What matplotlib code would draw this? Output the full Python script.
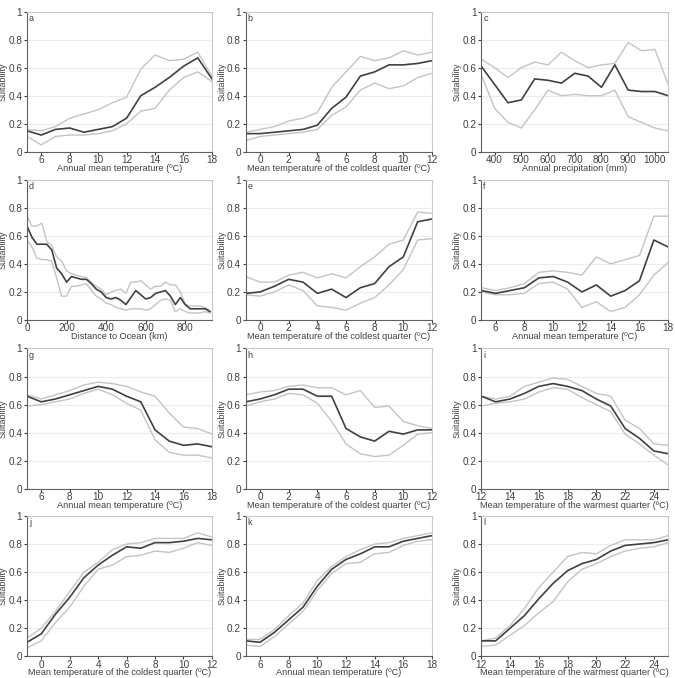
import numpy as np
import matplotlib
matplotlib.use("Agg")
import matplotlib.pyplot as plt

plt.rcParams['font.family'] = ['Liberation Sans', 'DejaVu Sans']

# eje x de cada panel
x_amt = [5, 6, 7, 8, 9, 10, 11, 12, 13, 14, 15, 16, 17, 18]
x_mtcq = [-1, 0, 1, 2, 3, 4, 5, 6, 7, 8, 9, 10, 11, 12]
x_mtwq = [12, 13, 14, 15, 16, 17, 18, 19, 20, 21, 22, 23, 24, 25]
x_prec = [350, 400, 450, 500, 550, 600, 650, 700, 750, 800, 850, 900, 950, 1000, 1050]
x_dist = [0, 25, 50, 75, 100, 125, 150, 175, 200, 225, 250, 275, 300, 325, 350, 375,
          400, 425, 450, 475, 500, 525, 550, 575, 600, 625, 650, 675, 700, 725, 750,
          775, 800, 825, 850, 875, 900, 925]

# panel a
a_mean = [0.15, 0.12, 0.16, 0.17, 0.14, 0.16, 0.18, 0.24, 0.40, 0.46, 0.53, 0.61, 0.67, 0.52]
a_up = [0.16, 0.15, 0.18, 0.24, 0.27, 0.30, 0.35, 0.39, 0.59, 0.69, 0.65, 0.66, 0.71, 0.54]
a_lo = [0.11, 0.05, 0.11, 0.12, 0.12, 0.13, 0.15, 0.20, 0.29, 0.31, 0.44, 0.53, 0.57, 0.50]
# panel b
b_mean = [0.13, 0.13, 0.14, 0.15, 0.16, 0.19, 0.31, 0.39, 0.54, 0.57, 0.62, 0.62, 0.63, 0.65]
b_up = [0.14, 0.16, 0.18, 0.22, 0.24, 0.28, 0.46, 0.57, 0.68, 0.65, 0.67, 0.72, 0.69, 0.71]
b_lo = [0.08, 0.11, 0.12, 0.13, 0.14, 0.16, 0.26, 0.32, 0.44, 0.49, 0.45, 0.47, 0.53, 0.56]
# panel c
c_mean = [0.61, 0.48, 0.35, 0.37, 0.52, 0.51, 0.49, 0.56, 0.54, 0.46, 0.62, 0.44, 0.43, 0.43, 0.40]
c_up = [0.66, 0.60, 0.53, 0.60, 0.64, 0.62, 0.71, 0.65, 0.60, 0.62, 0.63, 0.78, 0.72, 0.73, 0.48]
c_lo = [0.55, 0.31, 0.21, 0.17, 0.30, 0.44, 0.40, 0.41, 0.40, 0.40, 0.44, 0.25, 0.21, 0.17, 0.15]
# panel d
d_mean = [0.67, 0.59, 0.54, 0.54, 0.54, 0.50, 0.37, 0.33, 0.27, 0.31, 0.30, 0.29, 0.29,
          0.26, 0.22, 0.20, 0.16, 0.15, 0.16, 0.14, 0.11, 0.16, 0.21, 0.18, 0.15, 0.16,
          0.19, 0.20, 0.21, 0.17, 0.11, 0.16, 0.11, 0.08, 0.08, 0.08, 0.08, 0.06]
d_up = [0.74, 0.67, 0.67, 0.69, 0.56, 0.53, 0.45, 0.42, 0.35, 0.33, 0.32, 0.31, 0.30,
        0.27, 0.24, 0.22, 0.18, 0.20, 0.21, 0.22, 0.19, 0.27, 0.27, 0.28, 0.25, 0.22,
        0.24, 0.24, 0.27, 0.25, 0.25, 0.20, 0.11, 0.10, 0.10, 0.10, 0.09, 0.07]
d_lo = [0.57, 0.52, 0.44, 0.43, 0.43, 0.42, 0.30, 0.17, 0.17, 0.24, 0.24, 0.25, 0.26,
        0.21, 0.17, 0.15, 0.12, 0.11, 0.09, 0.08, 0.07, 0.08, 0.08, 0.08, 0.07, 0.08,
        0.11, 0.14, 0.15, 0.14, 0.06, 0.08, 0.06, 0.05, 0.05, 0.05, 0.06, 0.05]
# panel e
e_mean = [0.19, 0.20, 0.24, 0.29, 0.27, 0.19, 0.22, 0.16, 0.23, 0.26, 0.38, 0.45, 0.70, 0.72]
e_up = [0.31, 0.27, 0.27, 0.32, 0.34, 0.30, 0.33, 0.30, 0.38, 0.45, 0.54, 0.57, 0.77, 0.76]
e_lo = [0.18, 0.17, 0.20, 0.25, 0.21, 0.10, 0.09, 0.07, 0.12, 0.16, 0.25, 0.36, 0.57, 0.58]
# panel f
f_mean = [0.21, 0.19, 0.21, 0.23, 0.30, 0.31, 0.27, 0.20, 0.25, 0.17, 0.21, 0.28, 0.57, 0.52]
f_up = [0.23, 0.21, 0.23, 0.26, 0.34, 0.35, 0.34, 0.32, 0.45, 0.40, 0.43, 0.46, 0.74, 0.74]
f_lo = [0.20, 0.18, 0.18, 0.19, 0.26, 0.27, 0.22, 0.09, 0.13, 0.06, 0.09, 0.18, 0.32, 0.41]
# panel g
g_mean = [0.66, 0.62, 0.64, 0.67, 0.70, 0.73, 0.71, 0.66, 0.62, 0.42, 0.34, 0.31, 0.32, 0.30]
g_up = [0.67, 0.64, 0.67, 0.70, 0.74, 0.76, 0.75, 0.73, 0.69, 0.66, 0.54, 0.44, 0.43, 0.39]
g_lo = [0.59, 0.60, 0.62, 0.64, 0.68, 0.71, 0.67, 0.61, 0.56, 0.35, 0.26, 0.24, 0.24, 0.22]
# panel h
h_mean = [0.62, 0.64, 0.67, 0.71, 0.71, 0.66, 0.66, 0.43, 0.37, 0.34, 0.41, 0.39, 0.42, 0.42]
h_up = [0.67, 0.69, 0.70, 0.73, 0.74, 0.72, 0.72, 0.67, 0.70, 0.58, 0.59, 0.48, 0.45, 0.43]
h_lo = [0.59, 0.62, 0.64, 0.68, 0.67, 0.61, 0.48, 0.32, 0.25, 0.23, 0.24, 0.31, 0.39, 0.40]
# panel i
i_mean = [0.66, 0.62, 0.64, 0.68, 0.73, 0.75, 0.73, 0.70, 0.64, 0.59, 0.43, 0.36, 0.27, 0.25]
i_up = [0.66, 0.64, 0.66, 0.73, 0.76, 0.79, 0.78, 0.73, 0.68, 0.66, 0.49, 0.43, 0.32, 0.31]
i_lo = [0.59, 0.61, 0.62, 0.64, 0.69, 0.72, 0.71, 0.65, 0.60, 0.55, 0.39, 0.32, 0.24, 0.17]
# panel j
j_mean = [0.10, 0.16, 0.30, 0.42, 0.56, 0.65, 0.72, 0.78, 0.77, 0.81, 0.81, 0.82, 0.84, 0.83]
j_up = [0.13, 0.20, 0.32, 0.46, 0.60, 0.67, 0.76, 0.80, 0.81, 0.84, 0.84, 0.84, 0.88, 0.85]
j_lo = [0.06, 0.11, 0.24, 0.35, 0.50, 0.62, 0.65, 0.71, 0.72, 0.75, 0.74, 0.77, 0.81, 0.79]
# panel k
k_mean = [0.11, 0.10, 0.17, 0.26, 0.35, 0.50, 0.62, 0.69, 0.73, 0.78, 0.78, 0.82, 0.84, 0.86]
k_up = [0.12, 0.12, 0.19, 0.29, 0.38, 0.54, 0.64, 0.71, 0.76, 0.80, 0.81, 0.84, 0.86, 0.88]
k_lo = [0.08, 0.07, 0.14, 0.23, 0.32, 0.47, 0.59, 0.66, 0.67, 0.73, 0.74, 0.79, 0.82, 0.83]
# panel l
l_mean = [0.11, 0.11, 0.20, 0.29, 0.41, 0.52, 0.61, 0.66, 0.69, 0.75, 0.79, 0.80, 0.81, 0.83]
l_up = [0.11, 0.13, 0.22, 0.34, 0.49, 0.60, 0.71, 0.74, 0.73, 0.79, 0.83, 0.83, 0.83, 0.86]
l_lo = [0.07, 0.08, 0.15, 0.22, 0.31, 0.39, 0.53, 0.62, 0.66, 0.71, 0.75, 0.77, 0.78, 0.81]

lab_amt = "Annual mean temperature (ºC)"
lab_mtcq = "Mean temperature of the coldest quarter (ºC)"
lab_mtwq = "Mean temperature of the warmest quarter (ºC)"
lab_prec = "Annual precipitation (mm)"
lab_dist = "Distance to Ocean (km)"

paneles = [
    ("a", x_amt, a_mean, a_up, a_lo, lab_amt, (5, 18), range(6, 19, 2)),
    ("b", x_mtcq, b_mean, b_up, b_lo, lab_mtcq, (-1, 12), range(0, 13, 2)),
    ("c", x_prec, c_mean, c_up, c_lo, lab_prec, (350, 1050), range(400, 1001, 100)),
    ("d", x_dist, d_mean, d_up, d_lo, lab_dist, (0, 935), range(0, 801, 200)),
    ("e", x_mtcq, e_mean, e_up, e_lo, lab_mtcq, (-1, 12), range(0, 13, 2)),
    ("f", x_amt, f_mean, f_up, f_lo, lab_amt, (5, 18), range(6, 19, 2)),
    ("g", x_amt, g_mean, g_up, g_lo, lab_amt, (5, 18), range(6, 19, 2)),
    ("h", x_mtcq, h_mean, h_up, h_lo, lab_mtcq, (-1, 12), range(0, 13, 2)),
    ("i", x_mtwq, i_mean, i_up, i_lo, lab_mtwq, (12, 25), range(12, 25, 2)),
    ("j", x_mtcq, j_mean, j_up, j_lo, lab_mtcq, (-1, 12), range(0, 13, 2)),
    ("k", x_amt, k_mean, k_up, k_lo, lab_amt, (5, 18), range(6, 19, 2)),
    ("l", x_mtwq, l_mean, l_up, l_lo, lab_mtwq, (12, 25), range(12, 25, 2)),
]

fig = plt.figure(figsize=(6.75, 6.78), dpi=100)

lefts = [0.040, 0.364, 0.713]
anchos = [0.274, 0.276, 0.277]
bottoms = [0.776, 0.528, 0.279, 0.032]
alto = 0.207

for n, (letra, x, media, sup, inf, etiqueta, lim, ticks) in enumerate(paneles):
    fila, col = divmod(n, 3)
    ax = fig.add_axes([lefts[col], bottoms[fila], anchos[col], alto])
    ax.plot(x, sup, color='#c4c4c4', lw=1.0)
    ax.plot(x, inf, color='#c4c4c4', lw=1.0)
    ax.plot(x, media, color='#404040', lw=1.2)
    ax.set_xlim(*lim)
    ax.set_ylim(0, 1)
    ax.set_xticks(list(ticks))
    ax.set_yticks([0, 0.2, 0.4, 0.6, 0.8, 1])
    ax.set_yticklabels(["0", "0.2", "0.4", "0.6", "0.8", "1"])
    ax.yaxis.grid(True, color='#ececec', lw=0.8)
    ax.set_axisbelow(True)
    for s in ['top', 'right']:
        ax.spines[s].set_color('#c8c8c8')
    for s in ['left', 'bottom']:
        ax.spines[s].set_color('#606060')
    ax.tick_params(axis='both', labelsize=7.2, colors='#404040', length=2,
                   width=0.8, pad=0.5)
    ax.tick_params(axis='y', pad=1.5)
    ax.set_xlabel(etiqueta, fontsize=6.6, color='#404040', labelpad=-1)
    ax.set_ylabel("Suitability", fontsize=6.4, color='#404040')
    ax.yaxis.set_label_coords(-0.105, 0.5)
    ax.text(0.01, 0.985, letra, transform=ax.transAxes, fontsize=6.5,
            color='#404040', va='top', ha='left')

fig.savefig("out.png", dpi=100)
